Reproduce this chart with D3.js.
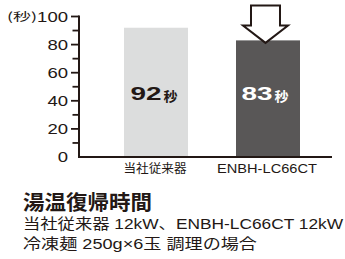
<!DOCTYPE html>
<html><head><meta charset="utf-8">
<script src="https://cdn.jsdelivr.net/npm/d3@7"></script>
<style>html,body{margin:0;padding:0;background:#fff;}svg{display:block;}</style>
</head><body>
<svg id="c" width="345" height="259"></svg>
<script>
const categories = ["当社従来器", "ENBH-LC66CT"];
const values = [92, 83];
const valueLabels = ["92", "83"];
const unit = "秒";
const yTickValues = [0, 20, 40, 60, 80, 100];
const yMinorTicks = [10, 30, 50, 70, 90];
const yUnitLabel = "(秒)";
const title = "湯温復帰時間";
const notes = ["当社従来器 12kW、ENBH-LC66CT 12kW", "冷凍麺 250g×6玉 調理の場合"];

const ink = "#231815";
const barColors = ["#dcdddd", "#595757"];
const labelColors = [ink, "#ffffff"];
const FONT = "'Liberation Sans', Arial, 'Noto Sans CJK JP', sans-serif";
const CJK = "'Noto Sans CJK JP', sans-serif";

const svg = d3.select("#c");
const y = d3.scaleLinear().domain([0, 100]).range([157, 16.5]);
const x = d3.scaleBand().domain(categories).range([124, 300]).paddingInner(0.42857).paddingOuter(0);

// bars
svg.selectAll("rect.bar").data(values).join("rect")
  .attr("class", "bar")
  .attr("x", (d, i) => x(categories[i]))
  .attr("width", x.bandwidth())
  .attr("y", d => y(d))
  .attr("height", d => y(0) - y(d))
  .attr("fill", (d, i) => barColors[i]);

// y axis
const axisX = 79;
svg.append("line").attr("x1", axisX).attr("x2", axisX).attr("y1", y(100) - 1).attr("y2", y(0) + 1)
  .attr("stroke", ink).attr("stroke-width", 2);
svg.append("line").attr("x1", axisX - 1).attr("x2", 332).attr("y1", y(0)).attr("y2", y(0))
  .attr("stroke", ink).attr("stroke-width", 2);
svg.selectAll("line.major").data(yTickValues.filter(v => v > 0)).join("line")
  .attr("x1", axisX - 8).attr("x2", axisX).attr("y1", d => y(d)).attr("y2", d => y(d))
  .attr("stroke", ink).attr("stroke-width", 1.8);
svg.selectAll("line.minor").data(yMinorTicks).join("line")
  .attr("x1", axisX - 6.5).attr("x2", axisX).attr("y1", d => y(d)).attr("y2", d => y(d))
  .attr("stroke", ink).attr("stroke-width", 1.8);
svg.selectAll("text.ytick").data(yTickValues).join("text")
  .attr("x", 68).attr("y", d => y(d) + 5.2)
  .attr("text-anchor", "end")
  .attr("font-family", FONT).attr("font-size", 14.5).attr("fill", ink)
  .attr("textLength", d => String(d).length * 10.3).attr("lengthAdjust", "spacingAndGlyphs")
  .text(d => d);
svg.append("text").attr("x", 7).attr("y", y(100) + 4.5)
  .attr("font-family", CJK).attr("font-size", 11.5).attr("fill", ink)
  .attr("textLength", 30).attr("lengthAdjust", "spacingAndGlyphs")
  .text(yUnitLabel);

// category labels
svg.selectAll("text.cat").data(categories).join("text")
  .attr("x", d => x(d) + x.bandwidth() / 2 - 1)
  .attr("y", 172.5)
  .attr("text-anchor", "middle")
  .attr("font-family", FONT).attr("font-size", 12).attr("fill", ink)
  .attr("textLength", (d, i) => i === 0 ? 63 : 100).attr("lengthAdjust", "spacingAndGlyphs")
  .text(d => d);

// value labels
values.forEach((v, i) => {
  const cx = x(categories[i]) + x.bandwidth() / 2;
  svg.append("text").attr("x", cx - 25.5 - i).attr("y", 100)
    .attr("font-family", FONT).attr("font-weight", "bold").attr("font-size", 18)
    .attr("fill", labelColors[i])
    .attr("textLength", 31).attr("lengthAdjust", "spacingAndGlyphs")
    .text(valueLabels[i]);
  svg.append("text").attr("x", cx + 7.5 - i).attr("y", 100.5)
    .attr("font-family", CJK).attr("font-weight", "bold").attr("font-size", 13)
    .attr("fill", labelColors[i])
    .attr("textLength", 14).attr("lengthAdjust", "spacingAndGlyphs")
    .text(unit);
});

// arrow above second bar
{
  const cx = x(categories[1]) + x.bandwidth() / 2 - 2.5;
  const tip = y(values[1]) + 2.5;
  const top = 5.5, shoulder = 25.5, sw = 14.5, hw = 22.5;
  const pts = [[cx - sw, top], [cx + sw, top], [cx + sw, shoulder], [cx + hw, shoulder],
               [cx, tip], [cx - hw, shoulder], [cx - sw, shoulder]];
  svg.append("polygon").attr("points", pts.map(p => p.join(",")).join(" "))
    .attr("fill", "#fff").attr("stroke", ink).attr("stroke-width", 2).attr("stroke-linejoin", "miter");
}

// title and notes
svg.append("text").attr("x", 23).attr("y", 210)
  .attr("font-family", CJK).attr("font-weight", "bold").attr("font-size", 20.5).attr("fill", ink)
  .attr("textLength", 129).attr("lengthAdjust", "spacingAndGlyphs")
  .text(title);
svg.append("text").attr("x", 23).attr("y", 229)
  .attr("font-family", FONT).attr("font-size", 14.5).attr("fill", ink)
  .attr("textLength", 320).attr("lengthAdjust", "spacingAndGlyphs")
  .text(notes[0]);
svg.append("text").attr("x", 23).attr("y", 249)
  .attr("font-family", FONT).attr("font-size", 14.5).attr("fill", ink)
  .attr("textLength", 234).attr("lengthAdjust", "spacingAndGlyphs")
  .text(notes[1]);
</script>
</body></html>
